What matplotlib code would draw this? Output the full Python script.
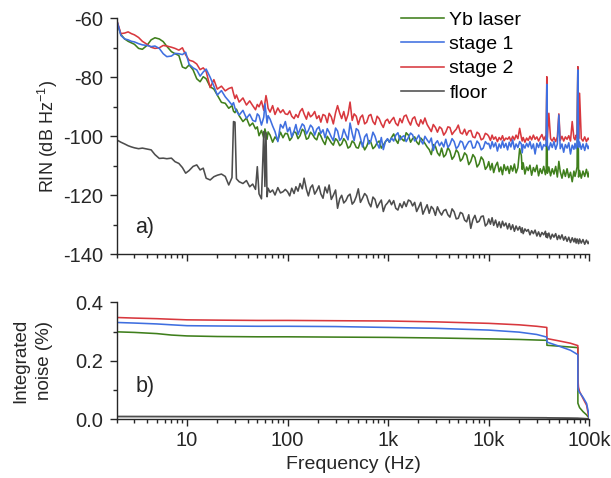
import matplotlib.pyplot as plt
from matplotlib.ticker import FixedLocator, FuncFormatter, LogLocator, MultipleLocator, NullFormatter

plt.rcParams['font.family'] = ['Liberation Sans', 'DejaVu Sans']
plt.rcParams['font.size'] = 13
plt.rcParams['axes.unicode_minus'] = False

# RIN spectra (dB/Hz) on a common frequency grid (Hz)
freq = [2.0, 2.2, 2.4, 2.6, 2.8, 3.0, 3.3, 3.6, 4.0, 4.4, 4.8, 5.3, 5.8, 6.3,
        7.0, 7.6, 8.3, 9.0, 9.7, 10.5, 11.5, 12.5, 13.5, 14.5, 15.5, 17, 18.5, 20,
        22, 24, 26, 28, 29, 30, 31, 33, 36, 39, 42, 45, 48, 50,
        52, 55, 58, 59.5, 61, 62.5, 64, 67, 71, 75, 80, 85, 90, 95,
        100, 105, 110, 116, 121, 127, 133, 140, 146, 154, 161, 169,
        177, 186, 195, 205, 214, 225, 236, 248, 259, 272, 285, 300,
        314, 330, 345, 362, 380, 399, 418, 439, 459, 482, 505, 530, 556,
        584, 612, 643, 673, 706, 740, 777, 814, 855, 895, 940, 985,
        1030, 1080, 1135, 1190, 1250, 1310, 1375, 1440, 1510, 1590, 1670, 1750, 1835,
        1920, 2015, 2110, 2215, 2320, 2440, 2560, 2685, 2810, 2950, 3090, 3245,
        3400, 3570, 3740, 3925, 4110, 4320, 4530, 4755, 4980, 5230, 5480, 5755,
        6030, 6330, 6630, 6960, 7290, 7655, 8020, 8420, 8820, 9260, 9700,
        10000, 10400, 10800, 11200, 11700, 12200, 12700, 13200, 13700, 14200, 14800, 15400,
        16000, 16600, 17300, 18000, 18700, 19500, 20300, 21100, 21500, 22000, 22900, 23800,
        24700, 25700, 26700, 27800, 28900, 30100, 31300, 32500, 33800, 35200, 36600, 37300,
        37800, 38300, 39600, 41200, 42800, 44500, 46300, 48100, 49800, 51400, 53500, 55600,
        57800, 60100, 62500, 65000, 67600, 70300, 72100, 74000, 75600, 76900, 78200, 80000,
        83200, 86500, 90000, 93600, 97300, 100000]

rin_yb = [-61.0, -65.5, -67.0, -67.8, -68.3, -68.8, -70.2, -70.5, -69.2, -67.3, -66.6, -67.0, -67.9, -69.5,
          -71.3, -72.0, -72.6, -76.5, -77.0, -75.8, -77.5, -80.5, -81.5, -79.8, -80.5, -83.2, -84.0, -86.0,
          -88.5, -88.8, -90.5, -89.6, -91.5, -92.0, -90.8, -93.0, -95.0, -93.8, -96.5, -95.5, -97.5, -96.8,
          -99.8, -98.0, -100.5, -97.5, -99.0, -101.0, -98.5, -99.6, -102.0, -100.2, -101.4, -98.6, -100.5, -99.0,
          -99.2, -101.4, -100.5, -98.4, -98.8, -100.8, -99.8, -97.6, -98.2, -101.0, -100.6, -98.6,
          -99.4, -100.6, -101.2, -98.8, -99.9, -101.6, -102.8, -100.0, -101.0, -102.2, -103.0, -100.8,
          -101.5, -103.2, -102.6, -100.8, -101.8, -104.0, -103.5, -101.6, -102.2, -103.8, -104.0, -101.8, -102.6,
          -104.6, -103.4, -101.4, -102.0, -104.2, -103.5, -102.2, -101.6, -104.0, -103.0, -101.8, -101.0,
          -102.0, -100.4, -99.2, -101.2, -102.4, -99.8, -101.0, -101.6, -98.8, -99.6, -102.0, -100.8, -100.2,
          -101.9, -102.8, -100.6, -101.4, -102.4, -103.6, -104.5, -106.2, -102.8, -103.4, -105.6, -106.6,
          -104.0, -107.0, -106.2, -103.8, -105.0, -107.8, -106.8, -104.6, -105.5, -108.4, -107.6, -105.6,
          -106.4, -109.6, -108.5, -106.2, -107.2, -110.4, -109.4, -107.0, -108.0, -111.2, -110.2,
          -108.6, -111.4, -109.2, -112.3, -110.0, -108.8, -112.0, -110.4, -113.0, -109.6, -111.6, -110.2,
          -112.6, -110.0, -111.8, -109.4, -112.4, -110.6, -104.2, -106.5, -111.2, -109.0, -112.8, -110.4,
          -111.6, -109.8, -113.2, -110.6, -112.0, -109.8, -113.4, -111.0, -112.6, -110.2, -113.0, -111.2,
          -84.3, -112.5, -110.4, -113.4, -111.0, -112.8, -110.2, -113.8, -108.5, -112.0, -114.2, -111.4,
          -113.6, -111.0, -114.0, -112.2, -115.4, -111.8, -113.6, -112.0, -110.4, -76.5, -113.8, -111.6,
          -114.2, -111.8, -113.6, -111.2, -113.8, -112.0]

rin_s1 = [-60.5, -65.8, -67.0, -67.3, -67.8, -68.0, -68.6, -69.0, -69.2, -69.6, -69.4, -70.2, -72.0, -73.0,
          -72.8, -71.9, -72.0, -72.3, -71.5, -75.6, -76.8, -77.5, -79.6, -78.2, -77.2, -80.0, -83.0, -86.0,
          -84.5, -86.6, -88.0, -89.4, -88.6, -90.5, -91.4, -92.8, -91.2, -93.9, -92.5, -94.6, -95.0, -92.4,
          -93.0, -96.2, -93.5, -89.0, -92.0, -95.5, -93.0, -94.2, -96.5, -98.4, -101.8, -96.0, -97.2, -95.0,
          -98.5, -97.0, -100.2, -98.2, -96.0, -99.4, -97.6, -95.8, -96.4, -99.2, -98.0, -96.2,
          -97.0, -99.6, -97.6, -96.8, -99.0, -97.8, -100.5, -97.4, -98.6, -100.2, -101.5, -97.2,
          -98.2, -101.4, -100.6, -97.6, -99.5, -101.2, -95.5, -99.0, -101.5, -97.4, -98.0, -100.6, -103.6,
          -100.2, -99.2, -102.6, -101.6, -98.6, -100.0, -102.4, -104.0, -100.4, -104.5, -101.8, -100.8,
          -102.0, -100.6, -101.6, -99.6, -98.8, -101.2, -100.2, -99.8, -101.8, -100.4, -98.9, -99.5, -101.6,
          -100.9, -99.6, -101.4, -102.6, -100.0, -101.2, -102.2, -100.6, -104.8, -102.4, -101.5, -103.2,
          -102.0, -103.6, -101.0, -103.8, -102.8, -100.8, -101.8, -104.2, -103.4, -101.6, -102.0, -104.4,
          -103.0, -101.8, -101.6, -104.0, -103.8, -101.6, -102.5, -104.6, -104.0, -101.8, -102.6,
          -102.4, -104.2, -101.8, -103.6, -102.2, -105.0, -102.6, -104.0, -101.6, -103.8, -102.4, -104.6,
          -102.0, -103.6, -101.2, -104.4, -102.6, -103.8, -101.8, -102.6, -105.6, -102.8, -104.0, -102.4,
          -103.6, -101.8, -104.2, -102.6, -106.0, -102.4, -103.8, -102.0, -104.6, -102.8, -103.4, -102.2,
          -82.4, -103.0, -104.6, -102.2, -103.8, -101.8, -104.4, -102.6, -92.8, -104.2, -102.6, -105.4,
          -102.8, -104.0, -102.2, -106.0, -103.0, -104.4, -102.4, -104.2, -102.8, -77.5, -103.8, -102.0,
          -104.4, -102.6, -104.8, -102.4, -104.2, -103.2]

rin_s2 = [-60.5, -65.2, -65.0, -64.6, -65.2, -65.6, -66.5, -67.8, -68.8, -69.8, -70.2, -70.0, -69.2, -69.4,
          -69.8, -70.2, -70.8, -70.0, -72.4, -74.2, -74.6, -75.5, -77.4, -76.8, -78.0, -83.5, -80.8, -84.0,
          -83.0, -84.6, -83.8, -83.4, -85.5, -87.2, -86.0, -88.4, -87.0, -89.4, -88.0, -89.6, -91.0, -89.2,
          -90.0, -88.0, -91.2, -88.6, -86.2, -88.0, -90.5, -91.8, -89.6, -92.6, -90.4, -92.0, -91.0, -92.4,
          -92.6, -91.4, -93.2, -94.0, -92.6, -93.6, -91.6, -90.6, -92.4, -94.2, -91.8, -93.4,
          -92.8, -91.6, -94.0, -93.0, -95.2, -92.6, -93.0, -95.4, -92.2, -93.4, -95.8, -92.0,
          -89.6, -92.2, -94.0, -91.6, -94.8, -92.6, -88.4, -94.6, -92.4, -93.2, -96.0, -93.6, -92.8,
          -95.8, -95.2, -93.0, -92.6, -95.0, -96.0, -93.2, -94.0, -95.8, -97.0, -94.8, -94.2,
          -95.6, -94.5, -93.6, -95.6, -96.4, -94.0, -95.4, -93.2, -92.8, -94.8, -96.2, -94.0, -93.4,
          -95.6, -96.6, -94.4, -95.8, -93.8, -96.0, -97.2, -98.4, -96.0, -97.0, -98.6, -96.8,
          -97.4, -99.6, -98.6, -96.8, -97.0, -99.4, -98.4, -97.6, -96.2, -98.8, -99.2, -97.6,
          -99.6, -98.2, -98.0, -100.2, -100.5, -98.6, -99.2, -101.2, -100.8, -99.0, -99.4,
          -100.0, -101.4, -99.6, -101.0, -100.2, -101.8, -100.4, -101.2, -99.8, -101.5, -100.6, -101.0,
          -100.2, -101.6, -100.0, -101.2, -99.6, -100.8, -97.3, -100.4, -101.6, -100.4, -102.0, -100.6,
          -101.4, -100.0, -101.2, -99.6, -101.0, -100.2, -101.6, -100.4, -99.4, -101.2, -100.0, -101.4,
          -79.8, -100.4, -92.2, -100.8, -101.6, -100.4, -101.8, -100.2, -92.4, -101.4, -100.0, -101.6,
          -100.2, -101.0, -99.8, -101.6, -95.0, -100.6, -101.2, -99.6, -100.4, -76.4, -100.8, -85.4,
          -100.8, -101.6, -100.2, -101.8, -100.6, -101.2]

rin_floor = [-101.2, -102.0, -102.6, -103.2, -103.6, -103.9, -104.2, -104.0, -104.3, -104.6, -106.2, -107.5, -107.4, -107.6,
             -107.4, -108.6, -109.2, -110.6, -112.5, -111.6, -110.2, -109.7, -111.4, -110.8, -114.2, -114.8, -113.7, -113.2,
             -112.8, -113.6, -116.5, -114.0, -95.0, -95.2, -114.4, -115.4, -116.0, -115.0, -117.1, -116.2, -118.0, -110.3,
             -119.5, -121.2, -98.4, -117.0, -98.8, -120.5, -117.6, -119.0, -118.2, -119.9, -117.4, -119.2, -118.8, -118.0,
             -118.8, -120.2, -117.6, -119.4, -117.1, -118.6, -116.0, -117.8, -114.2, -118.0, -120.2, -117.4,
             -116.5, -119.6, -118.4, -116.8, -119.5, -121.0, -117.2, -119.2, -116.5, -121.4, -120.0, -118.2,
             -124.4, -121.2, -120.0, -122.6, -121.8, -120.2, -119.6, -123.0, -122.2, -120.4, -117.8, -122.4, -121.0,
             -119.4, -120.2, -122.6, -123.9, -120.6, -121.4, -124.2, -122.8, -121.6, -125.5, -123.4, -122.6,
             -121.6, -123.2, -121.8, -124.4, -125.0, -122.8, -124.2, -122.2, -123.8, -121.6, -122.0, -123.6, -122.4,
             -125.5, -124.0, -122.4, -126.4, -124.8, -123.2, -126.1, -123.8, -124.6, -126.8, -123.9, -125.6,
             -126.7, -125.2, -124.8, -126.6, -127.4, -124.6, -125.6, -128.0, -127.8, -125.8, -126.2, -128.4,
             -129.0, -126.6, -131.2, -128.2, -126.8, -129.2, -128.8, -127.2, -127.0, -130.4, -129.6,
             -128.0, -129.8, -127.6, -130.2, -128.4, -130.8, -129.0, -131.0, -128.8, -130.4, -129.4, -131.4,
             -129.6, -131.6, -130.0, -132.2, -130.4, -131.8, -130.6, -132.6, -131.0, -133.0, -131.4, -132.2,
             -131.6, -133.4, -132.0, -133.0, -131.8, -133.8, -132.4, -134.0, -132.6, -133.4, -132.2, -134.2,
             -133.0, -134.4, -132.8, -134.8, -133.2, -134.2, -133.0, -135.0, -133.6, -134.8, -133.4, -135.2,
             -134.0, -135.6, -134.2, -136.0, -134.4, -135.8, -134.6, -136.2, -134.8, -135.4, -136.4, -134.8,
             -136.2, -135.0, -136.6, -135.2, -136.4, -135.6]

# integrated noise (%) from the upper frequency limit downwards
freq_int = [2, 3, 5, 7, 10, 20, 50, 100, 300, 1000, 3000, 10000, 20000, 30000,
            37800, 37900, 50000, 65000, 76900, 77000, 78000, 80000, 86700, 94000, 98500, 100000]
int_yb = [0.299, 0.297, 0.293, 0.288, 0.285, 0.283, 0.282, 0.282, 0.281, 0.280, 0.278, 0.275, 0.273, 0.271,
          0.270, 0.253, 0.250, 0.247, 0.245, 0.055, 0.050, 0.040, 0.026, 0.015, 0.006, 0.0]
int_s1 = [0.331, 0.329, 0.326, 0.323, 0.320, 0.319, 0.318, 0.318, 0.317, 0.314, 0.311, 0.305, 0.298, 0.290,
          0.281, 0.264, 0.250, 0.236, 0.221, 0.110, 0.098, 0.092, 0.075, 0.054, 0.020, 0.0]
int_s2 = [0.348, 0.346, 0.344, 0.342, 0.340, 0.339, 0.338, 0.338, 0.337, 0.336, 0.333, 0.328, 0.323, 0.318,
          0.314, 0.276, 0.268, 0.260, 0.252, 0.140, 0.110, 0.095, 0.071, 0.048, 0.010, 0.0]
int_floor = [0.0095, 0.0094, 0.0093, 0.0092, 0.0091, 0.0090, 0.0089, 0.0088, 0.0085, 0.0080, 0.0072, 0.0062, 0.0056, 0.0052,
             0.0050, 0.0048, 0.0044, 0.0040, 0.0036, 0.0035, 0.0034, 0.0032, 0.0026, 0.0018, 0.0008, 0.0]

GREEN = '#3f7f1c'
BLUE = '#3f6fe0'
RED = '#d8383e'
GRAY = '#4d4d4d'
INK = '#262626'
LW = 1.15

fig = plt.figure(figsize=(6.11, 4.78), dpi=100)
ax1 = fig.add_axes([0.191, 0.468, 0.7735, 0.4937])
ax2 = fig.add_axes([0.191, 0.1228, 0.7735, 0.2448], sharex=ax1)

ax1.plot(freq, rin_yb, color=GREEN, lw=LW, label='Yb laser')
ax1.plot(freq, rin_s2, color=RED, lw=LW, label='stage 2')
ax1.plot(freq, rin_s1, color=BLUE, lw=LW, label='stage 1')
ax1.plot(freq, rin_floor, color=GRAY, lw=LW, label='floor')

ax2.plot(freq_int, int_yb, color=GREEN, lw=LW)
ax2.plot(freq_int, int_s2, color=RED, lw=LW)
ax2.plot(freq_int, int_s1, color=BLUE, lw=LW)
ax2.plot(freq_int, int_floor, color=GRAY, lw=1.3)

handles, labels = ax1.get_legend_handles_labels()
order = [0, 2, 1, 3]
ax1.legend([handles[i] for i in order], [labels[i] for i in order],
           loc='upper left', bbox_to_anchor=(0.657, 0.977), bbox_transform=fig.transFigure,
           frameon=False, fontsize=14, handlelength=2.2, handletextpad=0.26,
           labelspacing=0.35, borderpad=0, borderaxespad=0)

for ax in (ax1, ax2):
    ax.set_xscale('log')
    ax.set_xlim(2, 1e5)
    for side in ('top', 'right'):
        ax.spines[side].set_visible(False)
    for side in ('left', 'bottom'):
        ax.spines[side].set_color(INK)
        ax.spines[side].set_linewidth(1.0)
    ax.xaxis.set_major_locator(FixedLocator([10, 100, 1e3, 1e4, 1e5]))
    ax.xaxis.set_minor_locator(LogLocator(base=10, subs=range(2, 10), numticks=20))
    ax.tick_params(which='major', direction='out', length=5, width=1, color=INK, labelcolor=INK, labelsize=14.5)
    ax.tick_params(which='minor', direction='out', length=3, width=1, color=INK)
    ax.tick_params(axis='y', which='major', pad=5)

ax1.set_ylim(-140, -60)
ax1.yaxis.set_major_locator(MultipleLocator(20))
ax1.yaxis.set_minor_locator(MultipleLocator(10))
ax1.tick_params(axis='x', which='both', labelbottom=False)
ax1.set_ylabel('RIN (dB Hz$^{\\mathregular{-1}}$)', fontsize=13, color=INK)
ax1.yaxis.set_label_coords(-0.12, 0.5)
ax1.text(0.039, 0.09, 'a)', transform=ax1.transAxes, fontsize=15.5, color=INK)

ax2.set_ylim(0, 0.4)
ax2.yaxis.set_major_locator(MultipleLocator(0.2))
ax2.yaxis.set_minor_locator(MultipleLocator(0.1))
ax2.yaxis.set_major_formatter(FuncFormatter(lambda v, p: f'{v:.1f}'))
labels_k = {10: '10', 100: '100', 1000: '1k', 10000: '10k', 100000: '100k'}
ax2.xaxis.set_major_formatter(FuncFormatter(lambda v, p: labels_k.get(int(round(v)), '')))
ax2.xaxis.set_minor_formatter(NullFormatter())
ax2.set_ylabel('Integrated\nnoise (%)', fontsize=13.5, color=INK, linespacing=1.5)
ax2.yaxis.set_label_coords(-0.135, 0.5)
ax2.set_xlabel('Frequency (Hz)', fontsize=14, color=INK, labelpad=4)
ax2.text(0.04, 0.233, 'b)', transform=ax2.transAxes, fontsize=15.5, color=INK)

fig.savefig('out.png', dpi=100)
